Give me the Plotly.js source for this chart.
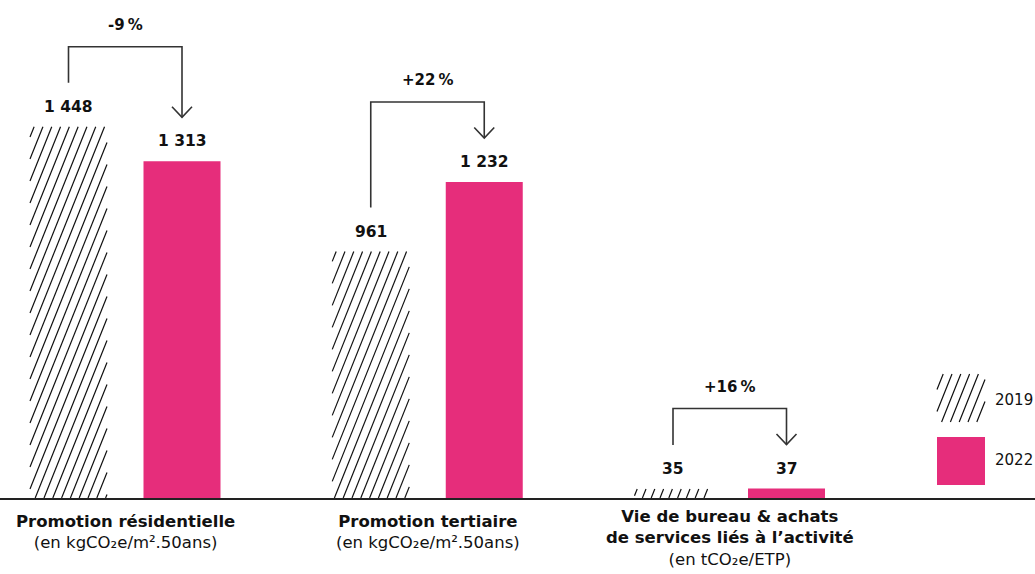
<!DOCTYPE html>
<html>
<head>
<meta charset="utf-8">
<script src="https://cdn.plot.ly/plotly-3.0.1.min.js"></script>
<style>html,body{margin:0;padding:0;background:#fff;}#chart{width:1035px;height:574px;}</style>
</head>
<body>
<div id="chart"></div>
<script>
// ---- Data ----
const categories = ["Promotion résidentielle", "Promotion tertiaire", "Vie de bureau & achats<br>de services liés à l’activité"];
const unitLabels = ["(en kgCO₂e/m².50ans)", "(en kgCO₂e/m².50ans)", "(en tCO₂e/ETP)"];
const seriesNames = ["2019", "2022"];
const values2019 = [1448, 961, 35];
const values2022 = [1313, 1232, 37];
const changeLabels = ["-9\u202F%", "+22\u202F%", "+16\u202F%"];

// ---- Style / layout constants ----
const W = 1035, H = 574;
const plotH = 498;
const pxPerX = 302.25;
const xmin = -125.25 / pxPerX, xmax = (W - 125.25) / pxPerX;
const ymax = 1942;
const unitsPerPxY = ymax / plotH;
const barOff = 56.75 / pxPerX, barW = 77 / pxPerX;
const PINK = "#E62D7B";
const INK = "#111111";
const LINE = "#333333";
const FONT = "DejaVu Sans, sans-serif";

const idx = categories.map((_, i) => i);
const x2019 = idx.map(i => i - barOff);
const x2022 = idx.map(i => i + barOff);

function fmt(v) { return String(v).replace(/\B(?=(\d{3})+(?!\d))/g, " "); }

function hatch(x0, x1, y0, y1, spacing, k) {
  const segs = [];
  const h = y1 - y0;
  const bStart = Math.floor((x0 - k * h) / spacing) * spacing;
  for (let b = bStart; b <= x1; b += spacing) {
    let ya = Math.max(y0, y0 + (x0 - b) / k);
    let yb = Math.min(y1, y0 + (x1 - b) / k);
    if (yb - ya > 0.5) {
      segs.push([[b + k * (ya - y0), ya], [b + k * (yb - y0), yb]]);
    }
  }
  return segs;
}
const HATCH_SP = 8.8, HATCH_K = 0.4;

const hx = [], hy = [];
idx.forEach(i => {
  const cx = (x2019[i] - xmin) * pxPerX;
  const half = barW * pxPerX / 2;
  const top = values2019[i] / unitsPerPxY;
  hatch(cx - half, cx + half, 0, top, HATCH_SP, HATCH_K).forEach(s => {
    hx.push(s[0][0] / pxPerX + xmin, s[1][0] / pxPerX + xmin, null);
    hy.push(s[0][1] * unitsPerPxY, s[1][1] * unitsPerPxY, null);
  });
});

const traces = [
  { type: "bar", name: seriesNames[0], x: x2019, y: values2019, width: barW,
    marker: { color: "rgba(255,255,255,0)", line: { width: 0 } }, hoverinfo: "skip", showlegend: false },
  { type: "scatter", mode: "lines", x: hx, y: hy, line: { color: INK, width: 1.2 },
    hoverinfo: "skip", showlegend: false },
  { type: "bar", name: seriesNames[1], x: x2022, y: values2022, width: barW,
    marker: { color: PINK, line: { width: 0 } }, hoverinfo: "skip", showlegend: false }
];

const shapes = [];
const annotations = [];

idx.forEach(i => {
  [[x2019[i], values2019[i]], [x2022[i], values2022[i]]].forEach(([x, v]) => {
    annotations.push({ x: x, y: v, xref: "x", yref: "y", text: "<b>" + fmt(v) + "</b>",
      showarrow: false, yanchor: "bottom", yshift: 9, font: { family: FONT, size: 15.5, color: INK } });
  });
});

idx.forEach(i => {
  const c1 = x2019[i], c2 = x2022[i];
  const start = values2019[i] + 44 * unitsPerPxY;
  const tip = values2022[i] + 44 * unitsPerPxY;
  const level = Math.max(values2019[i], values2022[i]) + 80 * unitsPerPxY;
  const dx = 10 / pxPerX, dy = 10.5 * unitsPerPxY;
  shapes.push({ type: "path", xref: "x", yref: "y",
    path: `M ${c1},${start} L ${c1},${level} L ${c2},${level} L ${c2},${tip}`,
    line: { color: LINE, width: 1.6 } });
  shapes.push({ type: "path", xref: "x", yref: "y",
    path: `M ${c2 - dx},${tip + dy} L ${c2},${tip} L ${c2 + dx},${tip + dy}`,
    line: { color: LINE, width: 1.6 } });
  annotations.push({ x: i, y: level, xref: "x", yref: "y", text: "<b>" + changeLabels[i] + "</b>",
    showarrow: false, yanchor: "bottom", yshift: 11, font: { family: FONT, size: 15, color: INK } });
});

idx.forEach(i => {
  annotations.push({ x: i, y: 0, xref: "x", yref: "paper", yanchor: "top", yshift: i === 2 ? -7 : -12,
    text: "<b>" + categories[i] + "</b><br>" + unitLabels[i],
    showarrow: false, align: "center", font: { family: FONT, size: 16.5, color: INK } });
});

function px2paperX(p) { return p / W; }
function px2paperY(p) { return (plotH - p) / plotH; }
shapes.push({ type: "rect", xref: "paper", yref: "paper",
  x0: px2paperX(937), x1: px2paperX(985), y0: px2paperY(485), y1: px2paperY(437),
  fillcolor: PINK, line: { width: 0 } });
let lp = "";
hatch(937, 985, plotH - 422, plotH - 374, HATCH_SP, HATCH_K).forEach(s => {
  lp += `M ${s[0][0] / W},${s[0][1] / plotH} L ${s[1][0] / W},${s[1][1] / plotH} `;
});
shapes.push({ type: "path", xref: "paper", yref: "paper", path: lp.trim(), line: { color: INK, width: 1.2 } });
annotations.push({ x: px2paperX(993), y: px2paperY(400), xref: "paper", yref: "paper", xanchor: "left", yanchor: "middle",
  text: seriesNames[0], showarrow: false, font: { family: FONT, size: 15, color: INK } });
annotations.push({ x: px2paperX(993), y: px2paperY(460), xref: "paper", yref: "paper", xanchor: "left", yanchor: "middle",
  text: seriesNames[1], showarrow: false, font: { family: FONT, size: 15, color: INK } });

const layout = {
  width: W, height: H,
  margin: { l: 0, r: 0, t: 0, b: H - plotH, pad: 0 },
  paper_bgcolor: "#ffffff", plot_bgcolor: "#ffffff",
  barmode: "overlay",
  showlegend: false,
  xaxis: { range: [xmin, xmax], showgrid: false, zeroline: false, showticklabels: false, ticks: "",
    showline: true, linecolor: "#222222", linewidth: 2, fixedrange: true },
  yaxis: { range: [0, ymax], visible: false, fixedrange: true },
  shapes: shapes,
  annotations: annotations,
  font: { family: FONT, color: INK }
};

Plotly.newPlot("chart", traces, layout, { displayModeBar: false, staticPlot: true });
</script>
</body>
</html>
